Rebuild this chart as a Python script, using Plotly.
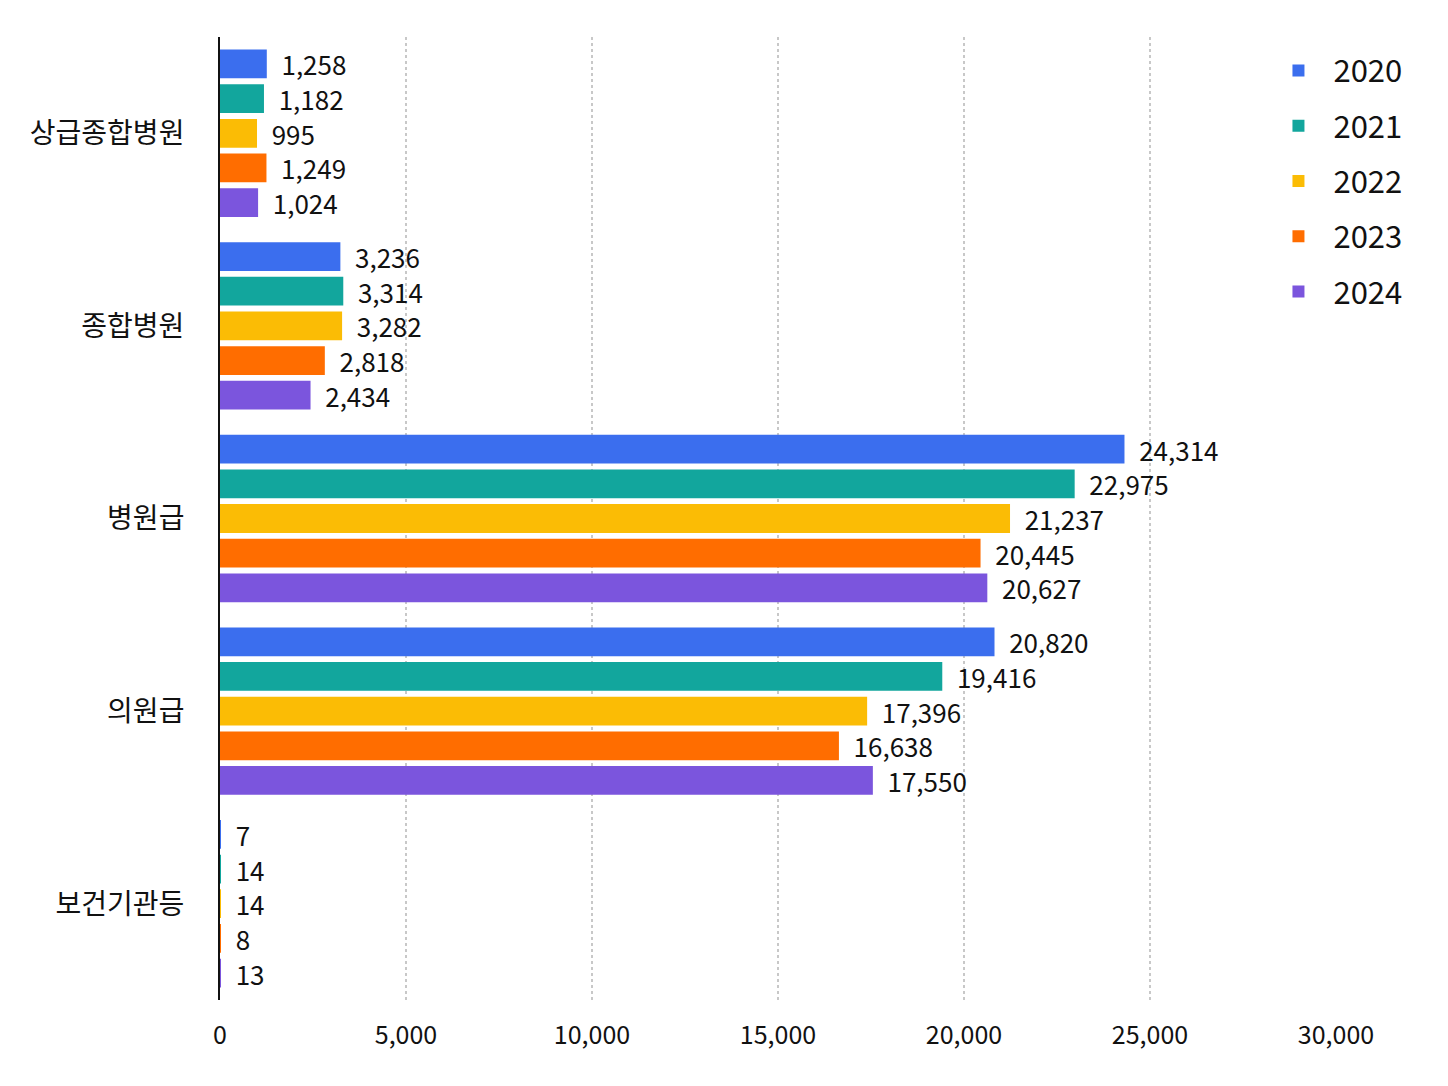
import plotly.graph_objects as go

categories = ["상급종합병원", "종합병원", "병원급", "의원급", "보건기관등"]
years = ["2020", "2021", "2022", "2023", "2024"]
values_2020 = [1258, 3236, 24314, 20820, 7]
values_2021 = [1182, 3314, 22975, 19416, 14]
values_2022 = [995, 3282, 21237, 17396, 14]
values_2023 = [1249, 2818, 20445, 16638, 8]
values_2024 = [1024, 2434, 20627, 17550, 13]
x_ticks = [0, 5000, 10000, 15000, 20000, 25000, 30000]

series = [values_2020, values_2021, values_2022, values_2023, values_2024]
colors = ["#3B6EEE", "#12A69D", "#FBBC05", "#FF6D00", "#7B55DD"]

FONT = "Noto Sans CJK KR, Noto Sans, sans-serif"

fig = go.Figure()
for yr, vals, col in zip(years, series, colors):
    fig.add_trace(go.Bar(
        y=categories, x=vals, name=yr, orientation="h",
        marker=dict(color=col, line=dict(width=0)),
        text=["\u00a0\u00a0" + f"{v:,}" for v in vals], textposition="outside",
        textfont=dict(size=26, color="#111111", family=FONT),
        constraintext="none", cliponaxis=False,
        legendgroup=yr,
    ))

fig.update_layout(
    width=1448, height=1086,
    barmode="group", bargap=0.1, bargroupgap=0.17,
    paper_bgcolor="white", plot_bgcolor="white",
    margin=dict(l=212, r=120, t=29, b=94, autoexpand=False),
    font=dict(family=FONT, color="#111111"),
    showlegend=True,
    legend=dict(x=0.935, y=0.993, xanchor="left", yanchor="top",
                font=dict(size=31, color="#111111", family=FONT),
                tracegroupgap=12, bgcolor="rgba(0,0,0,0)",
                itemwidth=60),
    xaxis=dict(range=[0, 30000], tickvals=x_ticks,
               ticktext=[f"{v:,}" for v in x_ticks],
               tickfont=dict(size=25, color="#111111"),
               showgrid=True, gridcolor="#C8C8C8", griddash="dot", gridwidth=1.5,
               zeroline=False, showline=False, ticks="",
               ticklabelstandoff=18),
    yaxis=dict(autorange="reversed", showline=True, linecolor="#111111",
               linewidth=2, ticks="", showgrid=False,
               tickfont=dict(size=28, color="#111111"),
               ticklabelstandoff=28),
)

fig.write_html("out.html")
